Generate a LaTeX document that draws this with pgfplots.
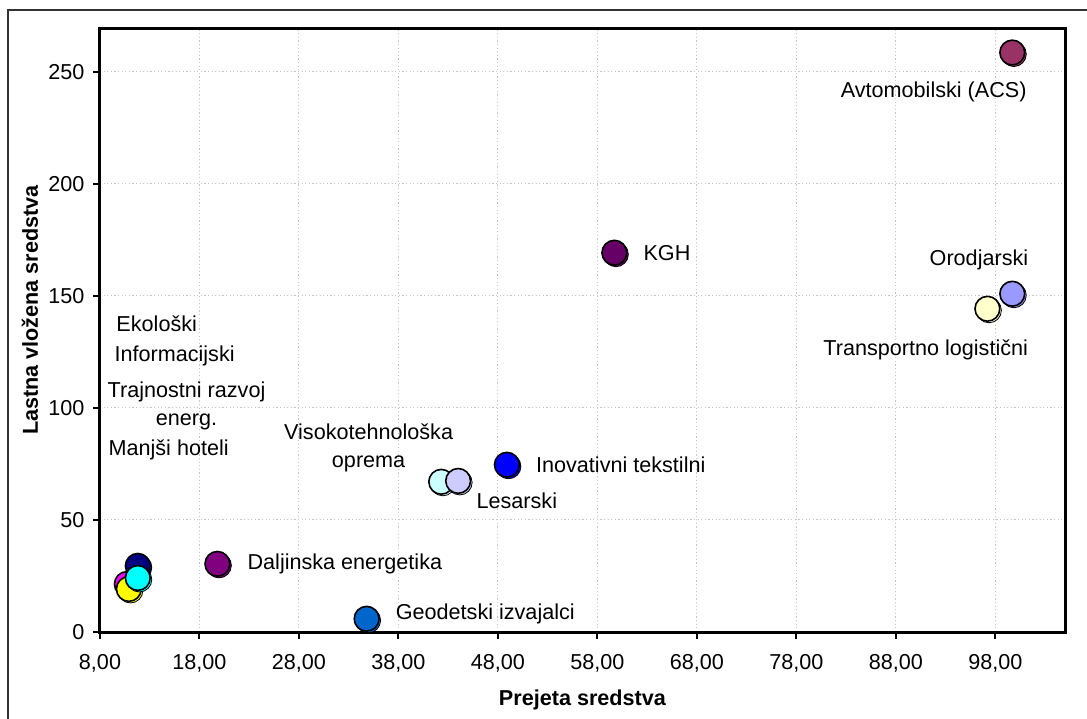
\documentclass[border=0pt]{standalone}
\usepackage{fontspec}
\setmainfont{Liberation Sans}
\usepackage{pgfplots}
\pgfplotsset{compat=1.18}

\definecolor{cOrod}{HTML}{9999FF}
\definecolor{cAvto}{HTML}{993366}
\definecolor{cTran}{HTML}{FFFFCC}
\definecolor{cViso}{HTML}{CCFFFF}
\definecolor{cKGH}{HTML}{660066}
\definecolor{cGeod}{HTML}{0066CC}
\definecolor{cLesa}{HTML}{CCCCFF}
\definecolor{cNavy}{HTML}{000080}
\definecolor{cMage}{HTML}{FF00FF}
\definecolor{cYell}{HTML}{FFFF00}
\definecolor{cCyan}{HTML}{00FFFF}
\definecolor{cDalj}{HTML}{800080}
\definecolor{cInov}{HTML}{0000FF}
\definecolor{framegray}{HTML}{333333}

\pgfplotsset{
  bubble/.style={only marks, mark=*, mark size=6.2pt,
    mark options={draw=black, line width=0.8pt, fill=#1}},
  bubbleshadow/.style={only marks, mark=*, mark size=6.2pt,
    mark options={draw=none, fill=#1, xshift=0.8pt, yshift=-0.8pt}},
}
% one point: soft offset shadow in its own colour, then the outlined marker
\newcommand\bubble[2]{%
  \addplot[bubbleshadow=#1] coordinates {#2};
  \addplot[bubble=#1] coordinates {#2};}

\begin{document}
\begin{tikzpicture}[x=1pt,y=1pt]
\useasboundingbox (-50,-43) rectangle (493.5,316);
% outer frame of the chart object
\draw[framegray, line width=0.9pt] (-46,-45) -- (-46,311) -- (495,311);
\begin{axis}[
  at={(0,0)}, anchor=south west,
  width=482.5pt, height=301.5pt, scale only axis,
  xmin=8, xmax=105, ymin=0, ymax=269,
  xtick={8,18,...,98},
  ytick={0,50,...,250},
  font=\fontsize{10.8}{14}\selectfont,
  /pgf/number format/assume math mode=true,
  xticklabel style={yshift=-4pt, /pgf/number format/.cd, fixed, fixed zerofill, precision=2, use comma},
  yticklabel style={xshift=-0.8pt},
  tick align=outside, tick pos=left,
  major tick length=3.5pt,
  every tick/.style={black, line width=1pt},
  axis line style={black, line width=1.5pt},
  grid=major,
  major grid style={gray!45, line width=0.5pt, dash pattern=on 0.6pt off 1.2pt},
  xlabel={\textbf{Prejeta sredstva}},
  ylabel={\textbf{Lastna vložena sredstva}},
  every axis x label/.style={at={(axis description cs:0.5,-0.113)}, anchor=center},
  every axis y label/.style={at={(axis description cs:-0.0725,0.534)}, anchor=center, rotate=90},
  clip=false,
]
\bubble{cOrod}{(99.7,150.9)}
\bubble{cAvto}{(99.7,258.5)}
\bubble{cTran}{(97.2,144.2)}
\bubble{cViso}{(42.3,67.0)}
\bubble{cKGH}{(59.7,169.2)}
\bubble{cGeod}{(34.8,5.9)}
\bubble{cLesa}{(44.0,67.4)}
\bubble{cNavy}{(11.8,29.5)}
\bubble{cMage}{(10.7,21.4)}
\bubble{cYell}{(10.9,19.2)}
\bubble{cCyan}{(11.8,24.1)}
\bubble{cDalj}{(19.8,30.4)}
\bubble{cInov}{(48.9,74.6)}

% data labels
\node at (axis cs:91.8,241) {Avtomobilski (ACS)};
\node[anchor=west, inner sep=0pt] at (axis cs:62.6,169.2) {KGH};
\node at (axis cs:96.35,166) {Orodjarski};
\node at (axis cs:91.0,125.9) {Transportno logistični};
\node[anchor=west, inner sep=0pt] at (axis cs:51.8,74.4) {Inovativni tekstilni};
\node at (axis cs:49.9,58.5) {Lesarski};
\node[align=center] at (axis cs:35.0,82) {Visokotehnološka\\oprema};
\node[anchor=west, inner sep=0pt] at (axis cs:22.8,30.4) {Daljinska energetika};
\node[anchor=west, inner sep=0pt] at (axis cs:37.7,8.0) {Geodetski izvajalci};
\node at (axis cs:13.7,137.5) {Ekološki};
\node at (axis cs:15.5,123.2) {Informacijski};
\node[align=center] at (axis cs:16.7,100.9) {Trajnostni razvoj\\energ.};
\node at (axis cs:14.9,81.25) {Manjši hoteli};
\end{axis}
\end{tikzpicture}
\end{document}
